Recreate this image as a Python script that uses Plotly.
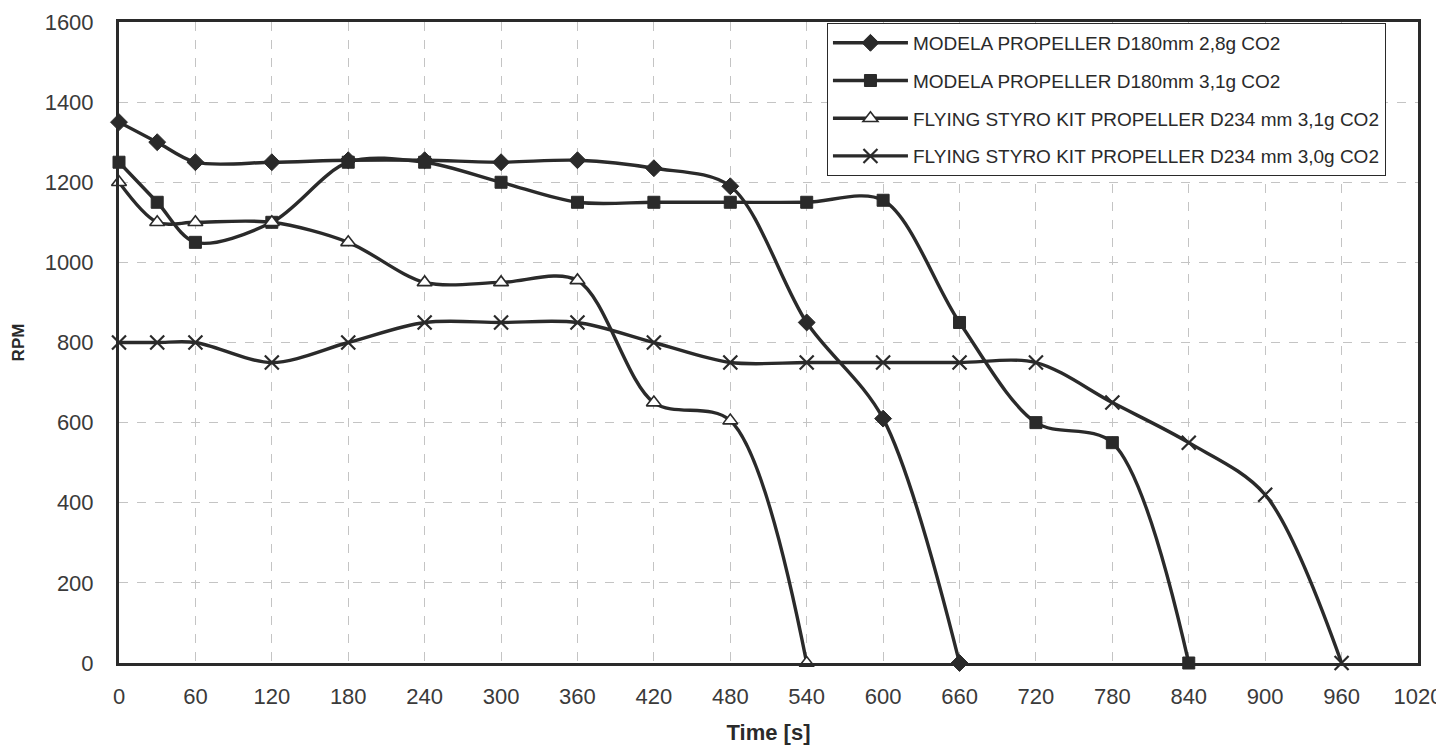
import plotly.graph_objects as go

# ---- data ----
t_modela_28 = [0, 30, 60, 120, 180, 240, 300, 360, 420, 480, 540, 600, 660]
rpm_modela_28 = [1350, 1300, 1250, 1250, 1255, 1255, 1250, 1255, 1235, 1190, 850, 610, 0]

t_modela_31 = [0, 30, 60, 120, 180, 240, 300, 360, 420, 480, 540, 600, 660, 720, 780, 840]
rpm_modela_31 = [1250, 1150, 1050, 1100, 1250, 1250, 1200, 1150, 1150, 1150, 1150, 1155, 850, 600, 550, 0]

t_styro_31 = [0, 30, 60, 120, 180, 240, 300, 360, 420, 480, 540]
rpm_styro_31 = [1200, 1100, 1100, 1100, 1050, 950, 950, 955, 650, 605, 0]

t_styro_30 = [0, 30, 60, 120, 180, 240, 300, 360, 420, 480, 540, 600, 660, 720, 780, 840, 900, 960]
rpm_styro_30 = [800, 800, 800, 750, 800, 850, 850, 850, 800, 750, 750, 750, 750, 750, 650, 550, 420, 0]

series_names = [
    "MODELA PROPELLER D180mm 2,8g CO2",
    "MODELA PROPELLER D180mm 3,1g CO2",
    "FLYING STYRO KIT PROPELLER D234 mm 3,1g CO2",
    "FLYING STYRO KIT PROPELLER D234 mm 3,0g CO2",
]
x_ticks = list(range(0, 1021, 60))
y_ticks = list(range(0, 1601, 200))

# ---- styling ----
INK = "#2a2a2a"
FONT = "Liberation Sans, Arial, sans-serif"

markers = [
    dict(symbol="diamond", size=13, color=INK, line=dict(color=INK, width=1)),
    dict(symbol="square", size=12, color=INK, line=dict(color=INK, width=1)),
    dict(symbol="triangle-up", size=13, color="white", line=dict(color=INK, width=1.6)),
    dict(symbol="x-thin", size=14, color=INK, line=dict(color=INK, width=2.2)),
]

fig = go.Figure()
data = [
    (t_modela_28, rpm_modela_28),
    (t_modela_31, rpm_modela_31),
    (t_styro_31, rpm_styro_31),
    (t_styro_30, rpm_styro_30),
]
for i, ((tx, ry), name) in enumerate(zip(data, series_names)):
    fig.add_trace(go.Scatter(
        x=tx, y=ry, name=name, mode="lines+markers",
        line=dict(color=INK, width=3.4, shape="spline", smoothing=0.9),
        marker=markers[i], cliponaxis=False, legendgroup=f"g{i}",
    ))

fig.update_layout(
    width=1436, height=737,
    margin=dict(l=111, r=26, t=14, b=82, autoexpand=False),
    paper_bgcolor="white", plot_bgcolor="white",
    font=dict(family=FONT, color="#3a3a3a"),
    showlegend=True,
    legend=dict(
        x=0.545, y=0.9985, xanchor="left", yanchor="top",
        bgcolor="white", bordercolor=INK, borderwidth=1,
        font=dict(family=FONT, size=19, color="#2a2a2a"),
        traceorder="grouped", tracegroupgap=10, itemwidth=75,
    ),
)
fig.update_xaxes(
    range=[0, 1020], tickvals=x_ticks, ticktext=[str(v) for v in x_ticks],
    showgrid=True, gridcolor="#c4c4c4", gridwidth=1, griddash="dash",
    showline=True, linecolor=INK, linewidth=3, mirror=True,
    ticks="outside", ticklen=12, tickcolor="rgba(0,0,0,0)",
    tickfont=dict(size=22, color="#3a3a3a"), zeroline=False,
    automargin=False, ticklabeloverflow="allow",
    title=dict(text="<b>Time [s]</b>", font=dict(size=22, color="#2a2a2a"), standoff=20),
)
fig.update_yaxes(
    range=[0, 1600], tickvals=y_ticks, ticktext=[str(v) for v in y_ticks],
    showgrid=True, gridcolor="#c4c4c4", gridwidth=1, griddash="dash",
    showline=True, linecolor=INK, linewidth=3, mirror=True,
    ticks="outside", ticklen=18, tickcolor="rgba(0,0,0,0)",
    tickfont=dict(size=22, color="#3a3a3a"), zeroline=False,
    automargin=False, ticklabeloverflow="allow",
    title=dict(text="<b>RPM</b>", font=dict(size=17, color="#2a2a2a"), standoff=16),
)

fig.write_html("out.html")
